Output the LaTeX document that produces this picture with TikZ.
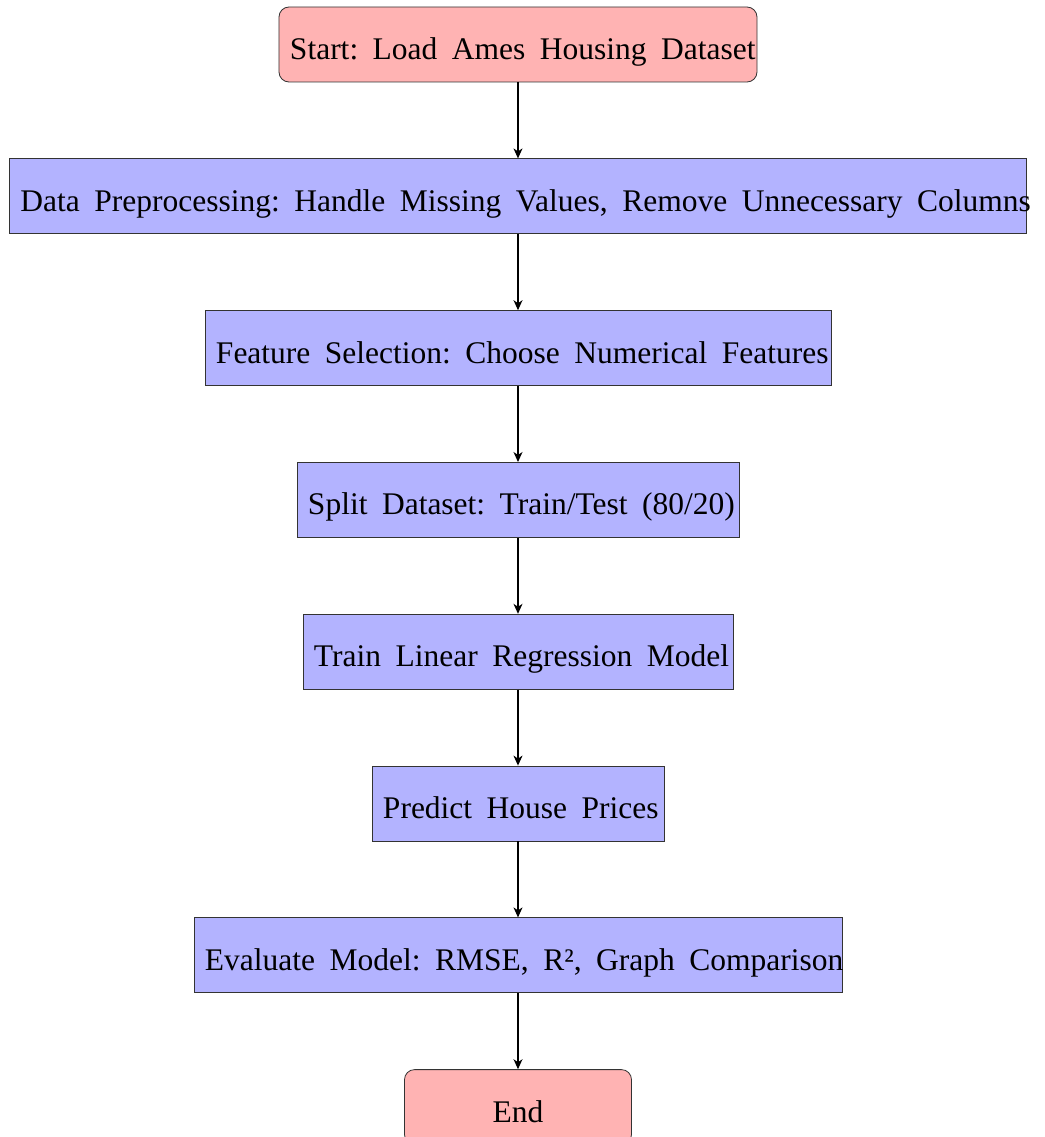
\documentclass[tikz,border=0pt]{standalone}
\usepackage{fontspec}
\setmainfont{Liberation Serif}
\usetikzlibrary{positioning,arrows.meta}
\definecolor{termback}{RGB}{255,179,179}
\definecolor{stepback}{RGB}{179,179,255}
\newcommand{\flowtext}[1]{\mbox{\spaceskip=14.5pt\xspaceskip=14.5pt\relax #1}}
\tikzset{
  box/.style={draw=black!80, line width=0.8pt, minimum height=75pt,
    inner xsep=11pt, inner ysep=0pt, align=center,
    font=\fontsize{31.5pt}{38pt}\selectfont,
    text height=30pt, text depth=0pt},
  term/.style={box, fill=termback, rounded corners=10pt},
  stepbox/.style={box, fill=stepback},
  flow/.style={-{Stealth[length=10pt,width=9pt,inset=3pt]}, line width=1.2pt}
}

\begin{document}
\begin{tikzpicture}[node distance=76pt]
\useasboundingbox (-518pt,44.5pt) rectangle (526pt,-1092.5pt);

\node [term, text width=456pt] (start) at (0,0) {\flowtext{Start: Load Ames Housing Dataset}};
\node [stepbox, text width=995pt, below=of start] (prep)
  {\flowtext{Data Preprocessing: Handle Missing Values, Remove Unnecessary Columns}};
\node [stepbox, text width=604pt, below=of prep] (feat)
  {\flowtext{Feature Selection: Choose Numerical Features}};
\node [stepbox, text width=420pt, below=of feat] (split)
  {\flowtext{Split Dataset: Train/Test (80/20)}};
\node [stepbox, text width=408pt, below=of split] (train)
  {\flowtext{Train Linear Regression Model}};
\node [stepbox, text width=270pt, below=of train] (pred)
  {\flowtext{Predict House Prices}};
\node [stepbox, text width=626pt, below=of pred] (eval)
  {\flowtext{Evaluate Model: RMSE, R², Graph Comparison}};
\node [term, text width=205pt, below=of eval] (end) {\flowtext{End}};

\draw [flow] (start) -- (prep);
\draw [flow] (prep) -- (feat);
\draw [flow] (feat) -- (split);
\draw [flow] (split) -- (train);
\draw [flow] (train) -- (pred);
\draw [flow] (pred) -- (eval);
\draw [flow] (eval) -- (end);
\end{tikzpicture}
\end{document}
